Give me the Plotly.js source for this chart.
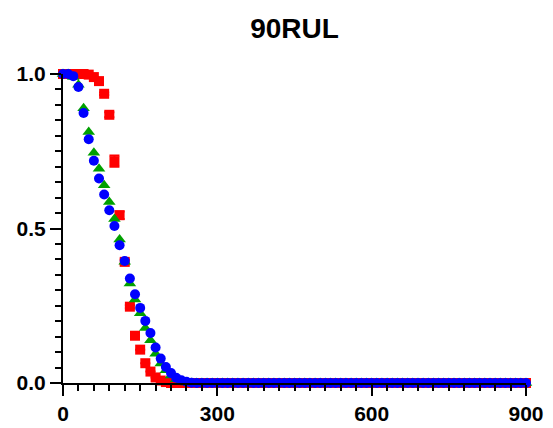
<!DOCTYPE html>
<html>
<head>
<meta charset="utf-8">
<script src="https://cdn.plot.ly/plotly-3.0.1.min.js"></script>
<style>
  html, body { margin: 0; padding: 0; background: #fff; }
  #chart { width: 553px; height: 428px; }
</style>
</head>
<body>
<div id="chart"></div>
<script>
// Sampling times (0 to 900, every 10)
const time = [
  0, 10, 20, 30, 40, 50, 60, 70, 80, 90,
  100, 110, 120, 130, 140, 150, 160, 170, 180, 190,
  200, 210, 220, 230, 240, 250, 260, 270, 280, 290,
  300, 310, 320, 330, 340, 350, 360, 370, 380, 390,
  400, 410, 420, 430, 440, 450, 460, 470, 480, 490,
  500, 510, 520, 530, 540, 550, 560, 570, 580, 590,
  600, 610, 620, 630, 640, 650, 660, 670, 680, 690,
  700, 710, 720, 730, 740, 750, 760, 770, 780, 790,
  800, 810, 820, 830, 840, 850, 860, 870, 880, 890,
  900
];

// Red squares
const redY = [
  1.000, 1.000, 1.000, 1.000, 1.000, 0.998, 0.990, 0.977, 0.936, 0.868,
  0.718, 0.543, 0.392, 0.247, 0.153, 0.108, 0.064, 0.037, 0.018, 0.008,
  0.003, 0, 0, 0, 0, 0, 0, 0, 0, 0,
  0, 0, 0, 0, 0, 0, 0, 0, 0, 0,
  0, 0, 0, 0, 0, 0, 0, 0, 0, 0,
  0, 0, 0, 0, 0, 0, 0, 0, 0, 0,
  0, 0, 0, 0, 0, 0, 0, 0, 0, 0,
  0, 0, 0, 0, 0, 0, 0, 0, 0, 0,
  0, 0, 0, 0, 0, 0, 0, 0, 0, 0,
  0
];
const redErr = [
  0, 0, 0, 0, 0, 0, 0, 0, 0.004, 0.008,
  0.018, 0.012, 0.008, 0.005, 0, 0, 0, 0, 0, 0,
  0, 0, 0, 0, 0, 0, 0, 0, 0, 0,
  0, 0, 0, 0, 0, 0, 0, 0, 0, 0,
  0, 0, 0, 0, 0, 0, 0, 0, 0, 0,
  0, 0, 0, 0, 0, 0, 0, 0, 0, 0,
  0, 0, 0, 0, 0, 0, 0, 0, 0, 0,
  0, 0, 0, 0, 0, 0, 0, 0, 0, 0,
  0, 0, 0, 0, 0, 0, 0, 0, 0, 0,
  0
];

// Green triangles
const greenY = [
  1.000, 1.000, 0.990, 0.965, 0.889, 0.812, 0.745, 0.693, 0.640, 0.586,
  0.531, 0.464, 0.392, 0.322, 0.270, 0.226, 0.178, 0.138, 0.095, 0.063,
  0.041, 0.024, 0.012, 0.005, 0.002, 0, 0, 0, 0, 0,
  0, 0, 0, 0, 0, 0, 0, 0, 0, 0,
  0, 0, 0, 0, 0, 0, 0, 0, 0, 0,
  0, 0, 0, 0, 0, 0, 0, 0, 0, 0,
  0, 0, 0, 0, 0, 0, 0, 0, 0, 0,
  0, 0, 0, 0, 0, 0, 0, 0, 0, 0,
  0, 0, 0, 0, 0, 0, 0, 0, 0, 0,
  0
];

// Blue circles
const blueY = [
  1.000, 1.000, 0.993, 0.958, 0.874, 0.789, 0.719, 0.662, 0.610, 0.559,
  0.508, 0.446, 0.395, 0.338, 0.287, 0.243, 0.201, 0.162, 0.115, 0.079,
  0.052, 0.032, 0.017, 0.009, 0.004, 0.001, 0, 0, 0, 0,
  0, 0, 0, 0, 0, 0, 0, 0, 0, 0,
  0, 0, 0, 0, 0, 0, 0, 0, 0, 0,
  0, 0, 0, 0, 0, 0, 0, 0, 0, 0,
  0, 0, 0, 0, 0, 0, 0, 0, 0, 0,
  0, 0, 0, 0, 0, 0, 0, 0, 0, 0,
  0, 0, 0, 0, 0, 0, 0, 0, 0, 0,
  0
];

const FONT = '"Liberation Sans", Arial, Helvetica, sans-serif';

const traces = [
  {
    x: time, y: redY, type: 'scatter', mode: 'markers', name: 'red',
    marker: { symbol: 'square', size: 10, color: '#FF0000' },
    error_y: { type: 'data', array: redErr, visible: true, color: '#FF0000', thickness: 2, width: 5 },
    cliponaxis: false
  },
  {
    x: time, y: greenY, type: 'scatter', mode: 'markers', name: 'green',
    marker: { symbol: 'triangle-up', size: 11, color: '#00A000' },
    cliponaxis: false
  },
  {
    x: time, y: blueY, type: 'scatter', mode: 'markers', name: 'blue',
    marker: { symbol: 'circle', size: 10, color: '#0000FF' },
    cliponaxis: false
  }
];

const tickFont = { family: FONT, size: 21, color: '#000', weight: 'bold' };

const layout = {
  width: 553, height: 428,
  margin: { l: 63, r: 27, t: 74, b: 45, pad: 0 },
  paper_bgcolor: '#fff', plot_bgcolor: '#fff',
  showlegend: false,
  title: {
    text: '90RUL',
    font: { family: FONT, size: 28, color: '#000', weight: 'bold' },
    x: 0.5, xref: 'paper', xanchor: 'center',
    y: 1 - 28 / 428, yref: 'container', yanchor: 'middle'
  },
  xaxis: {
    range: [0, 900], tickmode: 'linear', tick0: 0, dtick: 300,
    ticks: 'outside', ticklen: 11, tickwidth: 2, tickcolor: '#000',
    showline: true, linewidth: 2, linecolor: '#000',
    showgrid: false, zeroline: false,
    tickfont: tickFont,
    minor: { tick0: 0, dtick: 30, ticks: 'outside', ticklen: 6, tickwidth: 2, tickcolor: '#000', showgrid: false }
  },
  yaxis: {
    range: [0, 1], tickmode: 'linear', tick0: 0, dtick: 0.5, tickformat: '.1f',
    ticks: 'outside', ticklen: 11, tickwidth: 2, tickcolor: '#000',
    showline: true, linewidth: 2, linecolor: '#000',
    showgrid: false, zeroline: false,
    tickfont: tickFont,
    minor: { tick0: 0, dtick: 0.05, ticks: 'outside', ticklen: 6, tickwidth: 2, tickcolor: '#000', showgrid: false }
  }
};

Plotly.newPlot('chart', traces, layout, { displayModeBar: false, staticPlot: true });
</script>
</body>
</html>
